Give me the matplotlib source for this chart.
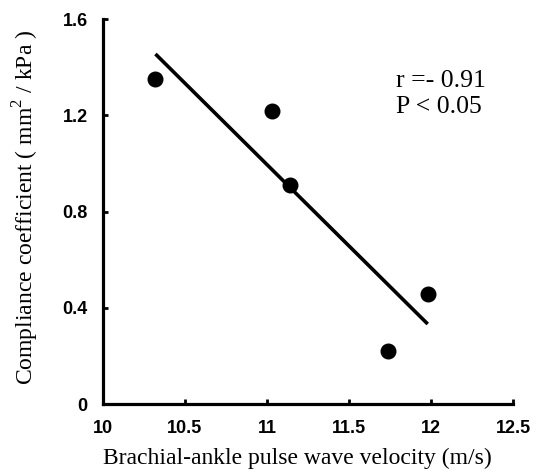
import numpy as np
import matplotlib
matplotlib.use("Agg")
import matplotlib.pyplot as plt

# Data
baPWV = [10.32, 11.03, 11.14, 11.74, 11.98]
compliance = [1.35, 1.22, 0.91, 0.22, 0.46]
xticks = [10, 10.5, 11, 11.5, 12, 12.5]
xtick_labels = ["10", "10.5", "11", "11.5", "12", "12.5"]
yticks = [0, 0.4, 0.8, 1.2, 1.6]
ytick_labels = ["0", "0.4", "0.8", "1.2", "1.6"]
stat_lines = ["r =- 0.91", "P < 0.05"]

fig = plt.figure(figsize=(5.4, 4.76), dpi=100)
ax = fig.add_axes([0.1907, 0.1506, 0.7593, 0.8094])

ax.plot(baPWV, compliance, 'o', color='black', markersize=10.5, zorder=3)
slope, intercept = np.polyfit(baPWV, compliance, 1)
xf = np.array([min(baPWV), max(baPWV)])
ax.plot(xf, slope * xf + intercept, color='black', linewidth=2.6, solid_capstyle='butt')

ax.set_xlim(10, 12.5)
ax.set_ylim(0, 1.6)
ax.set_xticks(xticks)
ax.set_xticklabels(xtick_labels)
ax.set_yticks(yticks)
ax.set_yticklabels(ytick_labels)

for s in ['top', 'right']:
    ax.spines[s].set_visible(False)
for s in ['left', 'bottom']:
    ax.spines[s].set_linewidth(2.3)

ax.tick_params(direction='in', length=3.5, width=2, pad=11)
for lab in ax.get_xticklabels() + ax.get_yticklabels():
    lab.set_fontfamily('Liberation Sans')
    lab.set_fontweight('bold')
    lab.set_fontsize(13)

ax.set_xlabel("Brachial-ankle pulse wave velocity (m/s)", fontfamily='Liberation Serif', fontsize=17)
ax.set_ylabel(r"Compliance coefficient ( mm$^{\mathregular{2}}$ / kPa )", fontfamily='Liberation Serif', fontsize=17)
ax.xaxis.set_label_coords(0.474, -0.112)
ax.yaxis.set_label_coords(-0.152, 0.51)

ax.text(0.714, 0.824, stat_lines[0], transform=ax.transAxes, fontfamily='Liberation Serif', fontsize=18.5, va='baseline')
ax.text(0.714, 0.756, stat_lines[1], transform=ax.transAxes, fontfamily='Liberation Serif', fontsize=18.5, va='baseline')

fig.savefig("out.png", dpi=100)
